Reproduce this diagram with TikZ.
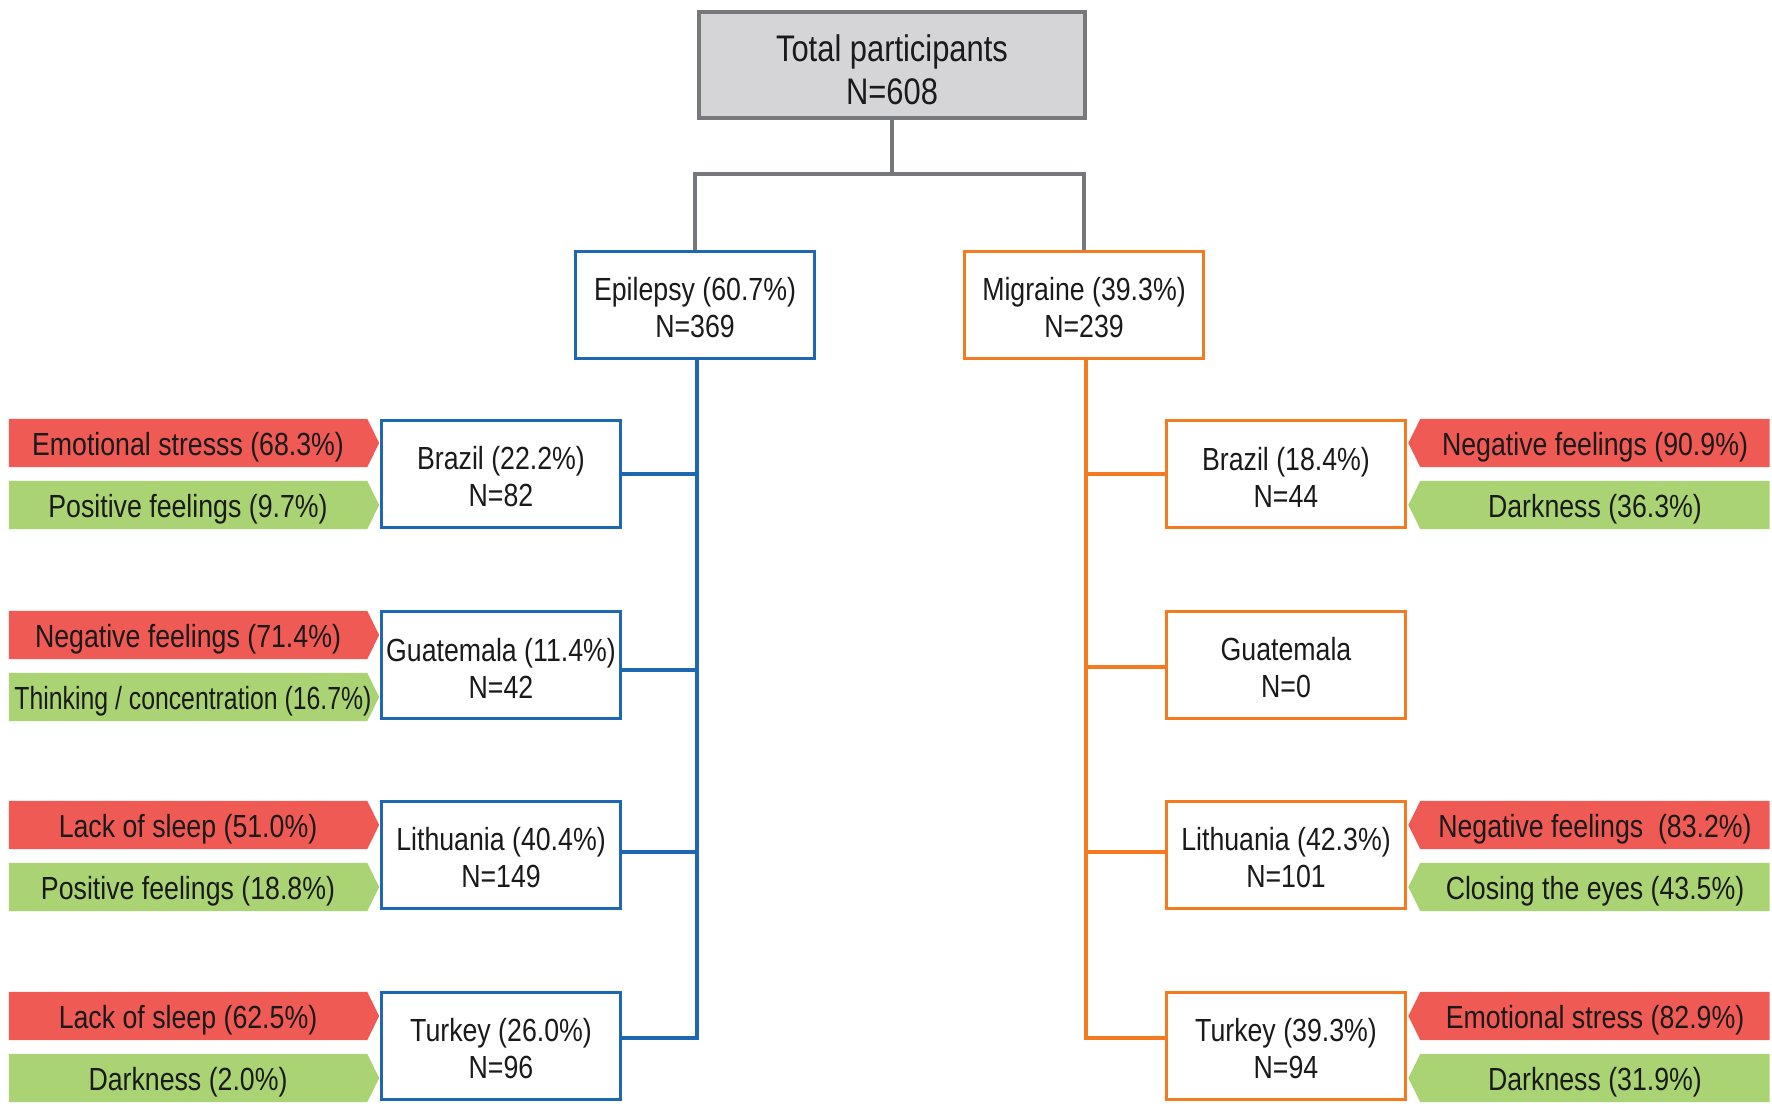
\documentclass[tikz,border=0pt]{standalone}
\usepackage{fontspec}
\setmainfont[FakeStretch=0.835]{Liberation Sans}
\newfontfamily\narrowfont[FakeStretch=0.775]{Liberation Sans}
\usetikzlibrary{backgrounds}
\definecolor{tagred}{HTML}{F05A55}
\definecolor{taggreen}{HTML}{AAD473}
\definecolor{epiblue}{HTML}{1E67B2}
\definecolor{migorange}{HTML}{F47A20}
\definecolor{boxgray}{HTML}{D5D5D7}
\definecolor{linegray}{HTML}{77787B}
\definecolor{txt}{HTML}{1A1A1A}
\begin{document}
\begin{tikzpicture}[x=1pt,y=-1pt,
  every node/.style={font=\fontsize{32}{37}\selectfont, text=txt, align=center, inner sep=0pt,
    execute at begin node={\rule{0pt}{1em}}},
  topbox/.style={draw=linegray, fill=boxgray, line width=3.5pt, minimum width=386pt, minimum height=106pt, font=\fontsize{37}{43}\selectfont,
    execute at begin node={\rule{0pt}{79pt}}},
  ebox/.style={draw=epiblue, fill=white, line width=3.5pt, minimum width=239pt, minimum height=107pt,
    execute at begin node={\rule{0pt}{66pt}}},
  mbox/.style={draw=migorange, fill=white, line width=3.5pt, minimum width=239pt, minimum height=107pt,
    execute at begin node={\rule{0pt}{66pt}}},
  ltag/.style={minimum width=358pt, minimum height=48pt},
  rtag/.style={minimum width=349pt, minimum height=48pt},
  gcon/.style={draw=linegray, line width=3.2pt},
  econ/.style={draw=epiblue, line width=3.2pt},
  mcon/.style={draw=migorange, line width=3.2pt}
]
\useasboundingbox (0,0) rectangle (1772,1113);

% main boxes
\node[topbox] (top) at (892,65) {Total participants\\N=608};
\node[ebox] (epi) at (695,305) {Epilepsy (60.7\%)\\N=369};
\node[mbox] (mig) at (1084,305) {Migraine (39.3\%)\\N=239};

% epilepsy countries
\node[ebox] (ebr) at (501,474) {Brazil (22.2\%)\\N=82};
\node[ebox] (egu) at (501,665) {Guatemala (11.4\%)\\N=42};
\node[ebox] (eli) at (501,855) {Lithuania (40.4\%)\\N=149};
\node[ebox] (etu) at (501,1046) {Turkey (26.0\%)\\N=96};

% migraine countries
\node[mbox] (mbr) at (1286,474) {Brazil (18.4\%)\\N=44};
\node[mbox] (mgu) at (1286,665) {Guatemala\\N=0};
\node[mbox] (mli) at (1286,855) {Lithuania (42.3\%)\\N=101};
\node[mbox] (mtu) at (1286,1046) {Turkey (39.3\%)\\N=94};

% left tags
\node[ltag] (lt1) at (188,443) {Emotional stresss (68.3\%)};
\node[ltag] (lt2) at (188,505) {Positive feelings (9.7\%)};
\node[ltag] (lt3) at (188,635) {Negative feelings (71.4\%)};
\node[ltag] (lt4) at (193,697) {\narrowfont Thinking / concentration (16.7\%)};
\node[ltag, minimum width=358pt] (lt4b) at (188,697) {};
\node[ltag] (lt5) at (188,825) {Lack of sleep (51.0\%)};
\node[ltag] (lt6) at (188,887) {Positive feelings (18.8\%)};
\node[ltag] (lt7) at (188,1016) {Lack of sleep (62.5\%)};
\node[ltag] (lt8) at (188,1078) {Darkness (2.0\%)};

% right tags
\node[rtag] (rt1) at (1595,443) {Negative feelings (90.9\%)};
\node[rtag] (rt2) at (1595,505) {Darkness (36.3\%)};
\node[rtag] (rt5) at (1595,825) {Negative feelings~~(83.2\%)};
\node[rtag] (rt6) at (1595,887) {Closing the eyes (43.5\%)};
\node[rtag] (rt7) at (1595,1016) {Emotional stress (82.9\%)};
\node[rtag] (rt8) at (1595,1078) {Darkness (31.9\%)};

\begin{scope}[on background layer]
\fill[white] (0,0) rectangle (1772,1113);
\foreach \n/\c in {lt1/tagred,lt2/taggreen,lt3/tagred,lt4b/taggreen,lt5/tagred,lt6/taggreen,lt7/tagred,lt8/taggreen}
  \fill[\c] (\n.north west) -- (\n.north east) -- ([xshift=12pt]\n.east) -- (\n.south east) -- (\n.south west) -- cycle;
\foreach \n/\c in {rt1/tagred,rt2/taggreen,rt5/tagred,rt6/taggreen,rt7/tagred,rt8/taggreen}
  \fill[\c] (\n.north east) -- (\n.north west) -- ([xshift=-12pt]\n.west) -- (\n.south west) -- (\n.south east) -- cycle;
\end{scope}

% connectors top
\coordinate (split) at (892,174);
\draw[gcon] (top.south) -- (split);
\draw[gcon] (split) -| (epi.north);
\draw[gcon] (split) -| (mig.north);

% epilepsy tree
\coordinate (e1) at (697,474);
\coordinate (e2) at (697,670);
\coordinate (e3) at (697,852);
\coordinate (e4) at (697,1038);
\draw[econ] (epi.south -| e1) -- (e4) -- (e4 -| etu.east);
\draw[econ] (e1) -- (e1 -| ebr.east);
\draw[econ] (e2) -- (e2 -| egu.east);
\draw[econ] (e3) -- (e3 -| eli.east);

% migraine tree
\coordinate (m1) at (1086,474);
\coordinate (m2) at (1086,667);
\coordinate (m3) at (1086,852);
\coordinate (m4) at (1086,1038);
\draw[mcon] (mig.south -| m1) -- (m4) -- (m4 -| mtu.west);
\draw[mcon] (m1) -- (m1 -| mbr.west);
\draw[mcon] (m2) -- (m2 -| mgu.west);
\draw[mcon] (m3) -- (m3 -| mli.west);
\end{tikzpicture}
\end{document}
